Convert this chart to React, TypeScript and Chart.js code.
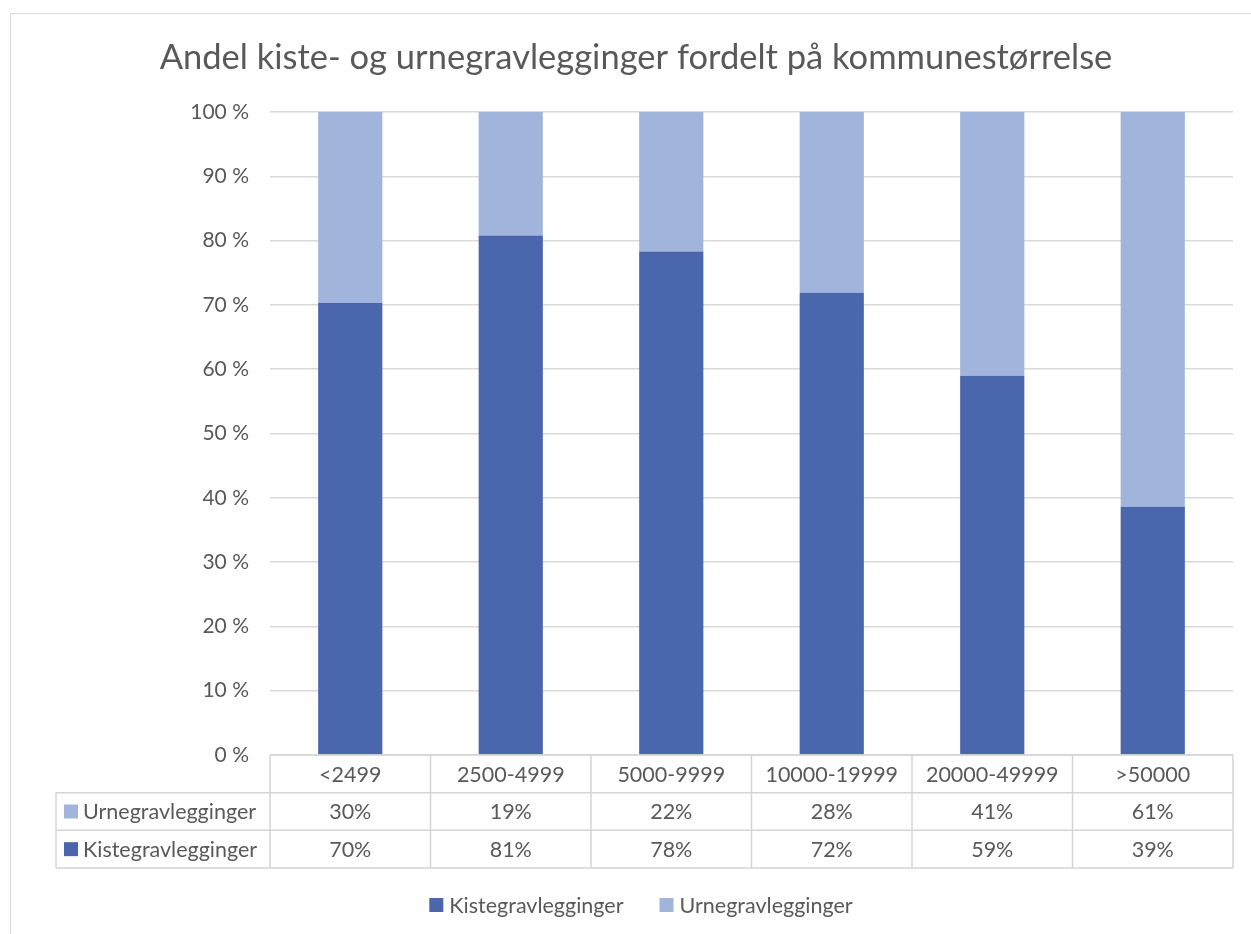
import React, { useEffect, useRef } from "react";
import { Chart, registerables } from "chart.js";

Chart.register(...registerables);

const TITLE = "Andel kiste- og urnegravlegginger fordelt på kommunestørrelse";
const categories = ["<2499", "2500-4999", "5000-9999", "10000-19999", "20000-49999", ">50000"];
const kisteValues = [70.3, 80.8, 78.3, 71.9, 59.0, 38.6];
const urneValues = [29.7, 19.2, 21.7, 28.1, 41.0, 61.4];
const yTicks = [0, 10, 20, 30, 40, 50, 60, 70, 80, 90, 100];

const KISTE_COLOR = "#4A66AC";
const URNE_COLOR = "#A1B4DC";
const TEXT_COLOR = "#595959";
const GRID_COLOR = "#D9D9D9";
const FONT = "Lato, 'Open Sans', sans-serif";
const TEXT_SIZE = 21.5;

const W = 1251;
const H = 934;

const framePlugin = {
  id: "frame",
  beforeDraw(chart: any) {
    const ctx = chart.ctx;
    ctx.save();
    ctx.fillStyle = "#ffffff";
    ctx.fillRect(0, 0, W, H);
    ctx.strokeStyle = "#D9D9D9";
    ctx.lineWidth = 1;
    ctx.beginPath();
    ctx.moveTo(10.5, H);
    ctx.lineTo(10.5, 13.5);
    ctx.lineTo(W, 13.5);
    ctx.stroke();
    ctx.fillStyle = TEXT_COLOR;
    ctx.font = `34.5px ${FONT}`;
    ctx.textAlign = "center";
    ctx.textBaseline = "middle";
    ctx.fillText(TITLE, 636, 58);
    ctx.restore();
  },
};

const tablePlugin = {
  id: "dataTable",
  afterDraw(chart: any) {
    const ctx = chart.ctx;
    const xs = chart.scales.x;
    const area = chart.chartArea;
    const top = area.bottom;
    const bottom = xs.bottom;
    const rowH = (bottom - top) / 3;
    const left = xs.left;
    const right = xs.right;
    const colW = (right - left) / categories.length;
    const labelLeft = 56;
    ctx.save();
    ctx.strokeStyle = "#D4D4D4";
    ctx.lineWidth = 1.5;
    const line = (x1: number, y1: number, x2: number, y2: number) => {
      ctx.beginPath();
      ctx.moveTo(x1, y1);
      ctx.lineTo(x2, y2);
      ctx.stroke();
    };
    line(left, top, right, top);
    line(labelLeft, top + rowH, right, top + rowH);
    line(labelLeft, top + 2 * rowH, right, top + 2 * rowH);
    line(labelLeft, bottom, right, bottom);
    line(labelLeft, top + rowH, labelLeft, bottom);
    for (let i = 0; i <= categories.length; i++) {
      const x = left + i * colW;
      line(x, top, x, bottom);
    }
    ctx.fillStyle = TEXT_COLOR;
    ctx.font = `${TEXT_SIZE}px ${FONT}`;
    ctx.textAlign = "center";
    ctx.textBaseline = "middle";
    categories.forEach((c, i) => {
      const cx = xs.getPixelForValue(i);
      ctx.fillText(c, cx, top + rowH / 2 + 1);
      ctx.fillText(Math.round(urneValues[i]) + "%", cx, top + rowH * 1.5 + 1);
      ctx.fillText(Math.round(kisteValues[i]) + "%", cx, top + rowH * 2.5 + 1);
    });
    const rows = [
      { name: "Urnegravlegginger", color: URNE_COLOR, y: top + rowH * 1.5 },
      { name: "Kistegravlegginger", color: KISTE_COLOR, y: top + rowH * 2.5 },
    ];
    ctx.textAlign = "left";
    rows.forEach((r) => {
      ctx.fillStyle = r.color;
      ctx.fillRect(64, r.y - 7, 14, 14);
      ctx.fillStyle = TEXT_COLOR;
      ctx.fillText(r.name, 83, r.y + 1);
    });
    const items = [
      { name: "Kistegravlegginger", color: KISTE_COLOR },
      { name: "Urnegravlegginger", color: URNE_COLOR },
    ];
    const gap = 36;
    const widths = items.map((it) => 20 + ctx.measureText(it.name).width);
    const total = widths.reduce((a, b) => a + b, 0) + gap;
    let x = 641 - total / 2;
    const ly = 905;
    items.forEach((it, i) => {
      ctx.fillStyle = it.color;
      ctx.fillRect(x, ly - 7, 14, 14);
      ctx.fillStyle = TEXT_COLOR;
      ctx.fillText(it.name, x + 20, ly + 1);
      x += widths[i] + gap;
    });
    ctx.restore();
  },
};

export default function App() {
  const ref = useRef<HTMLCanvasElement | null>(null);
  useEffect(() => {
    if (!ref.current) return;
    const chart = new Chart(ref.current, {
      type: "bar",
      data: {
        labels: categories,
        datasets: [
          {
            label: "Kistegravlegginger",
            data: kisteValues,
            backgroundColor: KISTE_COLOR,
            barPercentage: 0.4,
            categoryPercentage: 1,
          },
          {
            label: "Urnegravlegginger",
            data: urneValues,
            backgroundColor: URNE_COLOR,
            barPercentage: 0.4,
            categoryPercentage: 1,
          },
        ],
      },
      options: {
        responsive: false,
        animation: false,
        layout: { padding: { top: 112, right: 18, bottom: 66, left: 0 } },
        plugins: {
          legend: { display: false },
          title: { display: false },
          tooltip: { enabled: false },
        },
        scales: {
          x: {
            stacked: true,
            grid: { display: false, drawTicks: false },
            border: { display: false },
            ticks: { display: false },
            afterFit: (scale: any) => {
              scale.height = 113;
            },
          },
          y: {
            stacked: true,
            min: 0,
            max: 100,
            afterBuildTicks: (scale: any) => {
              scale.ticks = yTicks.map((v) => ({ value: v }));
            },
            grid: { color: GRID_COLOR, lineWidth: 1.5, drawTicks: false },
            border: { display: false },
            ticks: {
              padding: 21,
              color: TEXT_COLOR,
              font: { family: FONT, size: 21 },
              callback: (v: any) => v + " %",
            },
            afterFit: (scale: any) => {
              scale.width = 270;
            },
          },
        },
      },
      plugins: [framePlugin, tablePlugin],
    } as any);
    return () => chart.destroy();
  }, []);
  return (
    <div style={{ position: "absolute", left: 0, top: 0, width: W, height: H, background: "#fff" }}>
      <canvas ref={ref} width={W} height={H} style={{ width: W, height: H, display: "block" }} />
    </div>
  );
}
